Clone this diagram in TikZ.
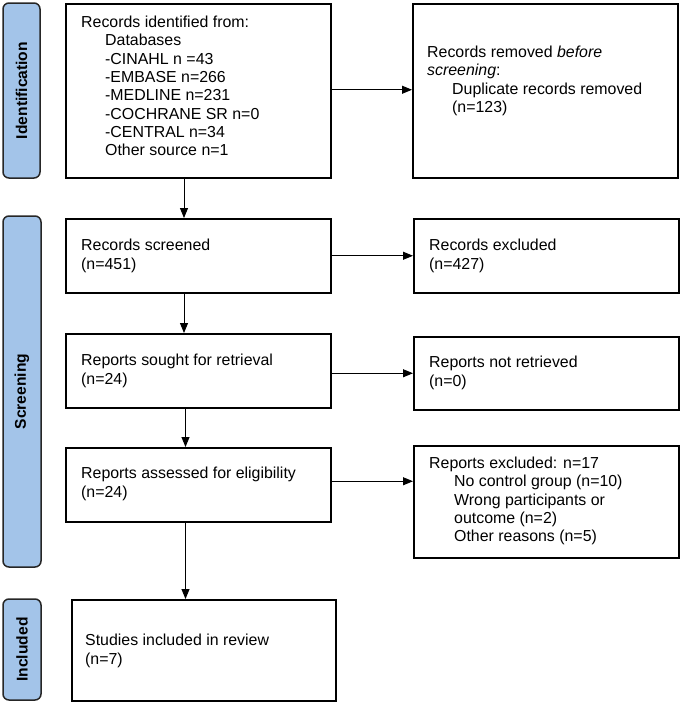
\documentclass[tikz,border=0pt]{standalone}
\usepackage{fontspec}
\setmainfont{Liberation Sans}
\usetikzlibrary{arrows.meta,calc}
\definecolor{barblue}{HTML}{A3C4E9}
\definecolor{bardraw}{HTML}{262626}
\tikzset{
  box/.style={draw=black, line width=1.5pt, rectangle, inner sep=0pt, anchor=north west},
  txt/.style={anchor=west, inner sep=0pt, align=left, font=\fontsize{15.9}{18.3}\selectfont},
  bar/.style={draw=bardraw, line width=1.5pt, fill=barblue, rounded corners=6pt, rotate=90,
    inner sep=0pt, font=\fontsize{15.6}{18}\selectfont\bfseries},
  arr/.style={line width=0.9pt, -{Triangle[length=10pt,width=8pt]}},
}
\newcommand{\ind}{\hspace*{24pt}}
\begin{document}
\begin{tikzpicture}[x=1pt,y=-1pt]
\useasboundingbox (0,0) rectangle (680,702);
% side bars
\node[bar, minimum width=175pt, minimum height=37pt] (bid) at (21.5,90.5) {Identification};
\node[bar, minimum width=351pt, minimum height=38pt] (bsc) at (22,391.5) {Screening};
\node[bar, minimum width=101pt, minimum height=38pt] (bin) at (22,649.5) {Included};
% boxes
\node[box, minimum width=265pt, minimum height=174pt] (b1) at (65,3) {};
\node[box, minimum width=265pt, minimum height=174pt] (b2) at (412,3) {};
\node[box, minimum width=265pt, minimum height=74pt] (scr) at (65,218) {};
\node[box, minimum width=265pt, minimum height=74pt] (exc) at (413,218) {};
\node[box, minimum width=265pt, minimum height=74pt] (sou) at (65,333) {};
\node[box, minimum width=265pt, minimum height=73pt] (nre) at (413,336) {};
\node[box, minimum width=265pt, minimum height=74pt] (ass) at (65,447) {};
\node[box, minimum width=265pt, minimum height=112pt] (rex) at (413,445) {};
\node[box, minimum width=264pt, minimum height=101pt] (inc) at (71,599) {};
% texts
\node[txt] (t1) at (81,86) {Records identified from:\\ \ind Databases\\ \ind -CINAHL n =43\\ \ind -EMBASE n=266\\ \ind -MEDLINE n=231\\ \ind -COCHRANE SR n=0\\ \ind -CENTRAL n=34\\ \ind Other source n=1};
\node[txt] (t2) at (427,81) {Records removed \textit{before}\\ \textit{screening}:\\ \hspace*{25pt}Duplicate records removed\\ \hspace*{25pt}(n=123)};
\node[txt] (t3) at (81,256) {Records screened\\ (n=451)};
\node[txt] (t4) at (429,256) {Records excluded\\ (n=427)};
\node[txt] (t5) at (81,371) {Reports sought for retrieval\\ (n=24)};
\node[txt] (t6) at (429,373) {Reports not retrieved\\ (n=0)};
\node[txt] (t7) at (81,484) {Reports assessed for eligibility\\ (n=24)};
\node[txt] (t8) at (429,501) {Reports excluded: n=17\\ \hspace*{25pt}No control group (n=10)\\ \hspace*{25pt}Wrong participants or\\ \hspace*{25pt}outcome (n=2)\\ \hspace*{25pt}Other reasons (n=5)};
\node[txt] (t9) at (85,651) {Studies included in review\\ (n=7)};
% connectors
\coordinate (ax) at (184,0);
\coordinate (ax2) at (185.5,0);
\draw[arr] (b1.south -| ax) -- (scr.north -| ax);
\draw[arr] (scr.south -| ax) -- (sou.north -| ax);
\draw[arr] (sou.south -| ax2) -- (ass.north -| ax2);
\draw[arr] (ass.south -| ax2) -- (inc.north -| ax2);
\draw[arr] ([yshift=1pt]b1.east) coordinate (h1) -- (h1 -| b2.west);
\draw[arr] (scr.east) -- (exc.west);
\draw[arr] (sou.east |- nre.west) -- (nre.west);
\draw[arr] ([yshift=3.5pt]ass.east) coordinate (h4) -- (h4 -| rex.west);
\end{tikzpicture}
\end{document}
